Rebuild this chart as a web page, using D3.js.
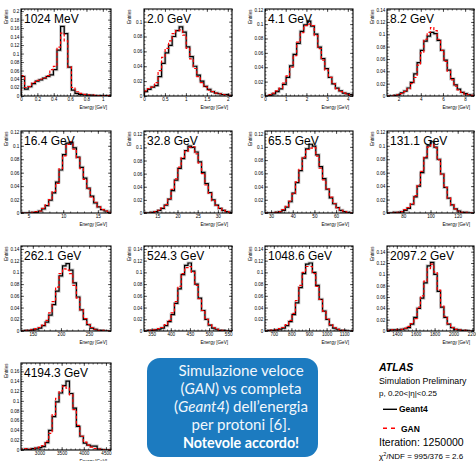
<!DOCTYPE html>
<html><head><meta charset="utf-8">
<script src="https://cdn.jsdelivr.net/npm/d3@7"></script>
<style>body{margin:0;background:#fff}svg{display:block}</style>
</head><body><svg id="c" width="476" height="461"></svg>
<script>
// ---------- data ----------
const titles = ["1024 MeV","2.0 GeV","4.1 GeV","8.2 GeV","16.4 GeV","32.8 GeV","65.5 GeV","131.1 GeV","262.1 GeV","524.3 GeV","1048.6 GeV","2097.2 GeV","4194.3 GeV"];
const xDomains = [[0,1.1],[0,2.1],[0,4.25],[0.95,8.8],[3.9,16.9],[11.7,33.5],[27.2,67.8],[68,132],[129,289],[330,560],[650,1150],[1296,2217],[2583,4614]];
const yMaxes = [0.205,0.117,0.121,0.141,0.122,0.125,0.124,0.122,0.145,0.145,0.145,0.15,0.177];
const xTicks = [[0,0.2,0.4,0.6,0.8,1],[0,0.5,1,1.5,2],[0,1,2,3,4],[2,4,6,8],[5,10,15],[15,20,25,30],[30,40,50,60],[80,100,120],[150,200,250],[350,400,450,500,550],[700,800,900,1000,1100],[1400,1600,1800,2000,2200],[3000,3500,4000,4500]];
const yTickStep = 0.02;

const g4_1 = [0.046,0.016,0.022,0.029,0.035,0.038,0.042,0.046,0.050,0.062,0.108,0.164,0.147,0.068,0.014,0.006,0.004,0.003,0.002,0.002,0.001,0.001,0.001,0.001,0.001];
const gan_1 = [0.048,0.020,0.022,0.032,0.037,0.040,0.043,0.048,0.062,0.070,0.115,0.148,0.130,0.068,0.020,0.010,0.006,0.004,0.003,0.002,0.002,0.001,0.001,0.001,0.001];
const g4_2 = [0.006,0.009,0.012,0.014,0.026,0.044,0.058,0.068,0.080,0.088,0.093,0.086,0.066,0.053,0.040,0.028,0.020,0.013,0.009,0.006,0.004,0.003,0.002,0.002,0.001];
const gan_2 = [0.007,0.010,0.012,0.018,0.034,0.052,0.064,0.074,0.084,0.088,0.089,0.082,0.064,0.050,0.037,0.026,0.018,0.012,0.008,0.006,0.004,0.003,0.002,0.001,0.001];
const g4_3 = [0.000,0.001,0.003,0.006,0.010,0.016,0.026,0.042,0.058,0.073,0.090,0.099,0.104,0.097,0.086,0.068,0.052,0.038,0.026,0.017,0.011,0.007,0.004,0.003,0.002];
const gan_3 = [0.000,0.002,0.004,0.007,0.011,0.018,0.028,0.040,0.056,0.075,0.088,0.098,0.100,0.098,0.084,0.066,0.050,0.036,0.026,0.017,0.010,0.006,0.004,0.002,0.001];
const g4_4 = [0,0,0.001,0.002,0.005,0.008,0.013,0.022,0.036,0.054,0.074,0.089,0.097,0.103,0.101,0.090,0.074,0.058,0.042,0.028,0.018,0.011,0.006,0.004,0.002,0.001];
const gan_4 = [0,0,0.001,0.002,0.004,0.007,0.012,0.020,0.030,0.050,0.070,0.092,0.103,0.111,0.106,0.092,0.074,0.056,0.040,0.026,0.016,0.010,0.006,0.003,0.002,0.001];
const g4_5 = [0,0,0,0.001,0.001,0.003,0.006,0.011,0.019,0.030,0.046,0.064,0.087,0.104,0.105,0.097,0.083,0.068,0.052,0.037,0.025,0.015,0.009,0.005,0.003,0.001];
const gan_5 = [0,0,0,0.001,0.002,0.003,0.007,0.012,0.020,0.032,0.044,0.066,0.085,0.102,0.106,0.095,0.082,0.066,0.050,0.036,0.024,0.016,0.009,0.005,0.003,0.001];
const g4_6 = [0,0,0.001,0.002,0.004,0.007,0.012,0.021,0.034,0.050,0.068,0.083,0.095,0.102,0.100,0.093,0.078,0.062,0.045,0.031,0.020,0.012,0.007,0.004,0.002,0.001];
const gan_6 = [0,0,0.001,0.002,0.004,0.008,0.013,0.022,0.036,0.052,0.070,0.085,0.094,0.100,0.101,0.090,0.076,0.060,0.043,0.030,0.019,0.012,0.007,0.004,0.002,0.001];
const g4_7 = [0,0,0,0.001,0.002,0.004,0.009,0.017,0.030,0.046,0.064,0.083,0.097,0.104,0.101,0.088,0.070,0.052,0.036,0.023,0.014,0.008,0.004,0.002,0.001,0];
const gan_7 = [0,0,0,0.001,0.002,0.005,0.010,0.018,0.029,0.047,0.066,0.085,0.096,0.098,0.099,0.086,0.068,0.050,0.036,0.024,0.014,0.008,0.004,0.002,0.001,0];
const g4_8 = [0,0,0.001,0.001,0.002,0.004,0.007,0.013,0.024,0.040,0.060,0.082,0.100,0.106,0.098,0.080,0.058,0.038,0.022,0.012,0.006,0.003,0.001,0.001,0,0];
const gan_8 = [0,0,0.001,0.001,0.002,0.005,0.008,0.014,0.026,0.042,0.062,0.084,0.098,0.102,0.097,0.079,0.058,0.038,0.022,0.012,0.006,0.003,0.001,0.001,0,0];
const g4_9 = [0,0.001,0.001,0.002,0.003,0.005,0.009,0.015,0.027,0.045,0.068,0.094,0.111,0.115,0.104,0.082,0.058,0.036,0.020,0.011,0.005,0.003,0.001,0.001,0,0];
const gan_9 = [0,0.001,0.002,0.002,0.004,0.006,0.010,0.018,0.031,0.050,0.075,0.098,0.106,0.104,0.098,0.078,0.056,0.036,0.021,0.011,0.006,0.003,0.001,0.001,0,0];
const g4_10 = [0,0.001,0.001,0.002,0.003,0.005,0.009,0.016,0.028,0.047,0.072,0.096,0.112,0.116,0.102,0.080,0.056,0.035,0.020,0.010,0.005,0.003,0.001,0.001,0,0];
const gan_10 = [0,0.001,0.002,0.002,0.004,0.006,0.011,0.018,0.031,0.050,0.076,0.098,0.108,0.110,0.100,0.078,0.055,0.035,0.020,0.011,0.006,0.003,0.001,0.001,0,0];
const g4_11 = [0,0.001,0.001,0.002,0.003,0.005,0.009,0.016,0.028,0.048,0.074,0.098,0.114,0.116,0.100,0.078,0.054,0.034,0.020,0.010,0.005,0.003,0.001,0.001,0,0];
const gan_11 = [0,0.001,0.002,0.002,0.004,0.006,0.011,0.018,0.030,0.052,0.078,0.100,0.110,0.110,0.098,0.076,0.054,0.034,0.020,0.011,0.006,0.003,0.001,0.001,0,0];
const g4_12 = [0.001,0.002,0.002,0.002,0.003,0.004,0.006,0.012,0.024,0.040,0.058,0.085,0.115,0.121,0.100,0.070,0.042,0.024,0.012,0.006,0.003,0.002,0.001,0.001,0,0];
const gan_12 = [0.001,0.002,0.002,0.003,0.003,0.005,0.008,0.013,0.022,0.042,0.062,0.088,0.110,0.118,0.104,0.072,0.044,0.026,0.013,0.006,0.003,0.002,0.001,0.001,0,0];
const g4_13 = [0,0.002,0.001,0.003,0.004,0.005,0.007,0.015,0.040,0.068,0.098,0.116,0.131,0.140,0.115,0.085,0.048,0.028,0.014,0.010,0.008,0.008,0.002,0.001,0,0];
const gan_13 = [0.002,0.003,0.002,0.002,0.004,0.006,0.009,0.018,0.034,0.072,0.105,0.120,0.130,0.126,0.112,0.082,0.050,0.028,0.016,0.010,0.006,0.003,0.002,0.001,0,0];

const geant4Series = [g4_1,g4_2,g4_3,g4_4,g4_5,g4_6,g4_7,g4_8,g4_9,g4_10,g4_11,g4_12,g4_13];
const ganSeries = [gan_1,gan_2,gan_3,gan_4,gan_5,gan_6,gan_7,gan_8,gan_9,gan_10,gan_11,gan_12,gan_13];

// ---------- layout ----------
const colX = [[21,111],[144,232],[265,353],[387,474]];
const rowY = [[9,96],[131,213],[246,331],[363,450]];
const FONT = "'Liberation Sans', Arial, Helvetica, sans-serif";
const svg = d3.select("#c");
const fmt = v => String(+v.toFixed(4));

titles.forEach((title, i) => {
  const c = i % 4, r = Math.floor(i / 4);
  const [px0, px1] = colX[c], [py0, py1] = rowY[r];
  const xd = xDomains[i];
  const x = d3.scaleLinear().domain(xd).range([px0, px1]);
  const y = d3.scaleLinear().domain([0, yMaxes[i]]).range([py1, py0]);
  const g = svg.append("g");
  const clipId = "clip" + i;
  svg.append("clipPath").attr("id", clipId).append("rect")
    .attr("x", px0).attr("y", py0).attr("width", px1 - px0).attr("height", py1 - py0);

  const stepPts = vals => {
    const n = vals.length, w = (xd[1] - xd[0]) / n;
    const a = [[xd[0], 0]];
    vals.forEach((v, k) => a.push([xd[0] + k * w, v]));
    a.push([xd[1], vals[n - 1]]);
    a.push([xd[1], 0]);
    return a;
  };
  const line = d3.line().x(d => x(d[0])).y(d => y(d[1])).curve(d3.curveStepAfter);
  const hg = g.append("g").attr("clip-path", `url(#${clipId})`);
  hg.append("path").attr("d", line(stepPts(geant4Series[i])))
    .attr("fill", "none").attr("stroke", "#c8c8c8").attr("stroke-width", 3);
  hg.append("path").attr("d", line(stepPts(geant4Series[i])))
    .attr("fill", "none").attr("stroke", "#000").attr("stroke-width", 1.2);
  hg.append("path").attr("d", line(stepPts(ganSeries[i])))
    .attr("fill", "none").attr("stroke", "#ff0000").attr("stroke-width", 1.2)
    .attr("stroke-dasharray", "3,2");

  // axes
  const xt = xTicks[i];
  const xstep = xt[1] - xt[0];
  const xMinor = d3.range(Math.ceil(xd[0] / (xstep / 5)), Math.floor(xd[1] / (xstep / 5)) + 1).map(k => k * xstep / 5);
  const yMajor = d3.range(0, Math.floor(yMaxes[i] / yTickStep + 1e-6) + 1).map(k => k * yTickStep);
  const yMinor = d3.range(0, Math.floor(yMaxes[i] / (yTickStep / 4) + 1e-6) + 1).map(k => k * yTickStep / 4);

  const styleAxis = sel => {
    sel.select(".domain").remove();
    sel.selectAll("line").attr("stroke", "#000").attr("stroke-width", 0.6);
    sel.selectAll("text").attr("font-family", FONT).attr("font-size", 4.6).attr("fill", "#000");
    sel.attr("font-size", null).attr("font-family", null);
  };
  g.append("g").attr("transform", `translate(0,${py1})`)
    .call(d3.axisBottom(x).tickValues(xMinor).tickSize(-1.5).tickFormat("")).call(styleAxis);
  g.append("g").attr("transform", `translate(0,${py1})`)
    .call(d3.axisBottom(x).tickValues(xt).tickSize(-3).tickPadding(1.6).tickFormat(fmt)).call(styleAxis);
  g.append("g").attr("transform", `translate(0,${py0})`)
    .call(d3.axisTop(x).tickValues(xMinor).tickSize(-1.5).tickFormat("")).call(styleAxis);
  g.append("g").attr("transform", `translate(0,${py0})`)
    .call(d3.axisTop(x).tickValues(xt).tickSize(-3).tickFormat("")).call(styleAxis);
  g.append("g").attr("transform", `translate(${px0},0)`)
    .call(d3.axisLeft(y).tickValues(yMinor).tickSize(-1.5).tickFormat("")).call(styleAxis);
  g.append("g").attr("transform", `translate(${px0},0)`)
    .call(d3.axisLeft(y).tickValues(yMajor).tickSize(-3).tickPadding(1.6).tickFormat(fmt)).call(styleAxis);
  g.append("g").attr("transform", `translate(${px1},0)`)
    .call(d3.axisRight(y).tickValues(yMinor).tickSize(-1.5).tickFormat("")).call(styleAxis);
  g.append("g").attr("transform", `translate(${px1},0)`)
    .call(d3.axisRight(y).tickValues(yMajor).tickSize(-3).tickFormat("")).call(styleAxis);

  g.append("rect").attr("x", px0).attr("y", py0).attr("width", px1 - px0).attr("height", py1 - py0)
    .attr("fill", "none").attr("stroke", "#000").attr("stroke-width", 1.1);

  g.append("text").attr("transform", `translate(${px0 - 13.5},${py0 + 0.5}) rotate(-90)`)
    .attr("text-anchor", "end").attr("font-family", FONT).attr("font-size", 4.6).text("Entries");
  g.append("text").attr("x", px1 - 4).attr("y", py1 + 13)
    .attr("text-anchor", "end").attr("font-family", FONT).attr("font-size", 4.6).text("Energy [GeV]");
  g.append("text").attr("x", px0 + 3).attr("y", py0 + 14)
    .attr("font-family", FONT).attr("font-size", 12).text(title);
});

// ---------- blue box ----------
const bx = svg.append("g");
bx.append("rect").attr("x", 147).attr("y", 358).attr("width", 171).attr("height", 99)
  .attr("rx", 13).attr("fill", "#1c7bc0");
const boxFont = "Lato, 'Open Sans', sans-serif";
const boxLines = [
  [["Simulazione veloce", "normal"]],
  [["(", "normal"], ["GAN", "italic"], [") vs completa", "normal"]],
  [["(", "normal"], ["Geant4", "italic"], [") dell\u2019energia", "normal"]],
  [["per protoni [6].", "normal"]]
];
boxLines.forEach((parts, k) => {
  const t = bx.append("text").attr("x", 241).attr("y", 375.5 + k * 18)
    .attr("text-anchor", "middle").attr("font-family", boxFont).attr("font-size", 15.1)
    .attr("font-weight", 400).attr("fill", "#f2f7fc");
  parts.forEach(p => t.append("tspan").attr("font-style", p[1]).text(p[0]));
});
bx.append("text").attr("x", 241).attr("y", 447.5).attr("text-anchor", "middle")
  .attr("font-family", boxFont).attr("font-size", 14.3).attr("font-weight", 700)
  .attr("fill", "#fff").text("Notevole accordo!");

// ---------- legend / labels ----------
const lg = svg.append("g").attr("font-family", FONT);
lg.append("text").attr("x", 379).attr("y", 370.5).attr("font-size", 10.5)
  .attr("font-weight", 700).attr("font-style", "italic").text("ATLAS");
lg.append("text").attr("x", 379).attr("y", 384).attr("font-size", 8.8).text("Simulation Preliminary");
lg.append("text").attr("x", 379).attr("y", 396).attr("font-size", 8).text("p, 0.20<|\u03b7|<0.25");
lg.append("line").attr("x1", 383).attr("x2", 397).attr("y1", 409.3).attr("y2", 409.3)
  .attr("stroke", "#000").attr("stroke-width", 1.4);
lg.append("text").attr("x", 399).attr("y", 412).attr("font-size", 8.5).attr("font-weight", 700).text("Geant4");
lg.append("line").attr("x1", 383).attr("x2", 397).attr("y1", 428.3).attr("y2", 428.3)
  .attr("stroke", "#ff0000").attr("stroke-width", 1.4).attr("stroke-dasharray", "4,4");
lg.append("text").attr("x", 401).attr("y", 431.5).attr("font-size", 8.5).attr("font-weight", 700).text("GAN");
lg.append("text").attr("x", 379).attr("y", 445.5).attr("font-size", 10.5).text("Iteration: 1250000");
const chi = lg.append("text").attr("x", 379).attr("y", 459).attr("font-size", 8);
chi.append("tspan").text("\u03c7");
chi.append("tspan").attr("font-size", 5.5).attr("dy", -3).text("2");
chi.append("tspan").attr("dy", 3).text("/NDF = 995/376 = 2.6");
</script></body></html>
